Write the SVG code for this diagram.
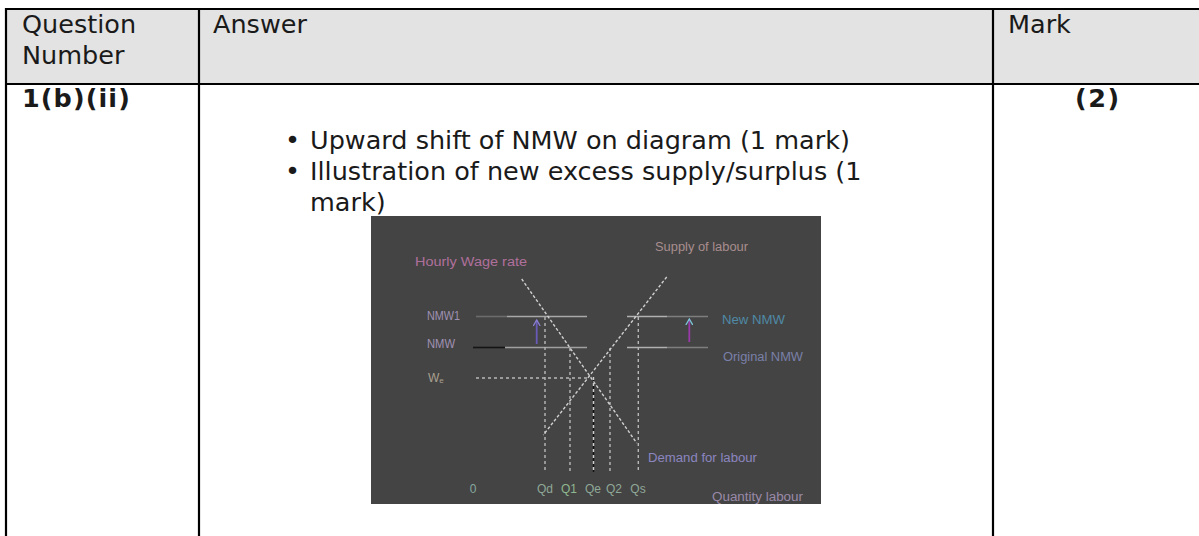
<svg xmlns="http://www.w3.org/2000/svg" width="1199" height="536" viewBox="0 0 1199 536">
<style>
.t{font-family:"DejaVu Sans",Verdana,sans-serif;font-size:25.5px;fill:#1a1a1a}
.b{font-weight:bold}
.grid{stroke:#000;stroke-width:2.2;fill:none}
.lbl{font-family:"Liberation Sans",Arial,sans-serif;font-size:12px}
.crv{stroke:#d0d0d0;stroke-width:1.4;stroke-dasharray:3 2;fill:none}
.vd{stroke:#b8b8b8;stroke-width:1.4;stroke-dasharray:3 3;fill:none}
</style>
<defs>
<marker id="ahL" markerWidth="8" markerHeight="8" refX="6" refY="4" orient="auto" markerUnits="userSpaceOnUse"><path d="M0,0.5 L6,4 L0,7.5" fill="none" stroke="#8a80d0" stroke-width="1.3"/></marker>
<marker id="ahR" markerWidth="8" markerHeight="8" refX="6" refY="4" orient="auto" markerUnits="userSpaceOnUse"><path d="M0,0.5 L6,4 L0,7.5" fill="none" stroke="#7cc8d8" stroke-width="1.3"/></marker>
</defs>
<rect width="1199" height="536" fill="#fff"/>
<g id="table">
<rect x="6" y="9" width="1193" height="75" fill="#e3e3e3"/>
<line class="grid" x1="5" y1="9" x2="1199" y2="9"/>
<line class="grid" x1="5" y1="84" x2="1199" y2="84"/>
<line class="grid" x1="6" y1="8" x2="6" y2="536"/>
<line class="grid" x1="199" y1="8" x2="199" y2="536"/>
<line class="grid" x1="993" y1="8" x2="993" y2="536"/>
</g>
<g id="header">
<text class="t" x="22" y="33">Question</text>
<text class="t" x="22" y="64">Number</text>
<text class="t" x="213" y="33">Answer</text>
<text class="t" x="1008" y="33">Mark</text>
</g>
<g id="qnum"><text class="t b" x="22" y="107" letter-spacing="1.1">1(b)(ii)</text></g>
<g id="mark"><text class="t b" x="1075" y="107" letter-spacing="1.5">(2)</text></g>
<g id="answer">
<text class="t" x="285" y="149">•</text>
<text class="t" x="310" y="149">Upward shift of NMW on diagram (1 mark)</text>
<text class="t" x="285" y="180">•</text>
<text class="t" x="310" y="180">Illustration of new excess supply/surplus (1</text>
<text class="t" x="310" y="211">mark)</text>
</g>
<g id="chart">
<rect x="371" y="216" width="450" height="288" fill="#444444"/>
<g id="connectors">
<line x1="476" y1="316.5" x2="507" y2="316.5" stroke="#6c6c6c" stroke-width="1.6"/>
<line x1="507" y1="316.5" x2="587" y2="316.5" stroke="#a8a8a8" stroke-width="1.6"/>
<line x1="627" y1="316.5" x2="667" y2="316.5" stroke="#b0b0b0" stroke-width="1.6"/>
<line x1="667" y1="316.5" x2="708" y2="316.5" stroke="#7e7e7e" stroke-width="1.6"/>
<line x1="473" y1="347.5" x2="505" y2="347.5" stroke="#151515" stroke-width="1.6"/>
<line x1="505" y1="347.5" x2="587" y2="347.5" stroke="#a0a0a0" stroke-width="1.6"/>
<line x1="627" y1="347.5" x2="667" y2="347.5" stroke="#b0b0b0" stroke-width="1.6"/>
<line x1="667" y1="347.5" x2="708" y2="347.5" stroke="#7e7e7e" stroke-width="1.6"/>
<line class="vd" x1="476" y1="378" x2="590" y2="378"/>
<line class="vd" x1="545" y1="317" x2="545" y2="472"/>
<line class="vd" x1="570" y1="348" x2="570" y2="472"/>
<line x1="593.5" y1="377" x2="593.5" y2="472" stroke="#cfcfcf" stroke-width="1.4" stroke-dasharray="3 3"/>
<line x1="593.5" y1="380" x2="593.5" y2="472" stroke="#111" stroke-width="1.4" stroke-dasharray="3 3"/>
<line class="vd" x1="610" y1="348" x2="610" y2="472"/>
<line class="vd" x1="638.3" y1="317" x2="638.3" y2="472"/>
<line class="crv" x1="521.7" y1="279" x2="636.7" y2="443"/>
<line class="crv" x1="666.7" y1="277" x2="543.3" y2="435"/>
<line x1="536.7" y1="344" x2="536.7" y2="320" stroke="#6a5ab8" stroke-width="1.8" marker-end="url(#ahL)"/>
<line x1="689.3" y1="342" x2="689.3" y2="319" stroke="#9a3aaa" stroke-width="1.8" marker-end="url(#ahR)"/>
</g>
<g id="labels">
<text class="lbl" x="415" y="266" fill="#b0709c" textLength="112" lengthAdjust="spacingAndGlyphs">Hourly Wage rate</text>
<text class="lbl" x="655" y="251" fill="#a88e8e" textLength="93" lengthAdjust="spacingAndGlyphs">Supply of labour</text>
<text class="lbl" x="427" y="320" fill="#a092b4" font-size="10" textLength="33" lengthAdjust="spacingAndGlyphs">NMW1</text>
<text class="lbl" x="427" y="348" fill="#a092b4" font-size="10" textLength="28" lengthAdjust="spacingAndGlyphs">NMW</text>
<text class="lbl" x="428" y="382" fill="#aaa090" font-size="11">W<tspan font-size="8" dy="1">e</tspan></text>
<text class="lbl" x="722" y="324" fill="#4f8aa6" textLength="63" lengthAdjust="spacingAndGlyphs">New NMW</text>
<text class="lbl" x="723" y="361" fill="#7a80a8" textLength="80" lengthAdjust="spacingAndGlyphs">Original NMW</text>
<text class="lbl" x="648" y="462" fill="#8c86c0" textLength="109" lengthAdjust="spacingAndGlyphs">Demand for labour</text>
<text class="lbl" x="473" y="493" fill="#88a8a0" font-size="11" text-anchor="middle">0</text>
<text class="lbl" x="545" y="493" fill="#90a898" font-size="11" text-anchor="middle">Qd</text>
<text class="lbl" x="569" y="493" fill="#90b890" font-size="11" text-anchor="middle">Q1</text>
<text class="lbl" x="593" y="493" fill="#90a898" font-size="11" text-anchor="middle">Qe</text>
<text class="lbl" x="614" y="493" fill="#90a898" font-size="11" text-anchor="middle">Q2</text>
<text class="lbl" x="638" y="493" fill="#90a898" font-size="11" text-anchor="middle">Qs</text>
<text class="lbl" x="712" y="501" fill="#9a8aa8" textLength="91" lengthAdjust="spacingAndGlyphs">Quantity labour</text>
</g>
</g>
</svg>
